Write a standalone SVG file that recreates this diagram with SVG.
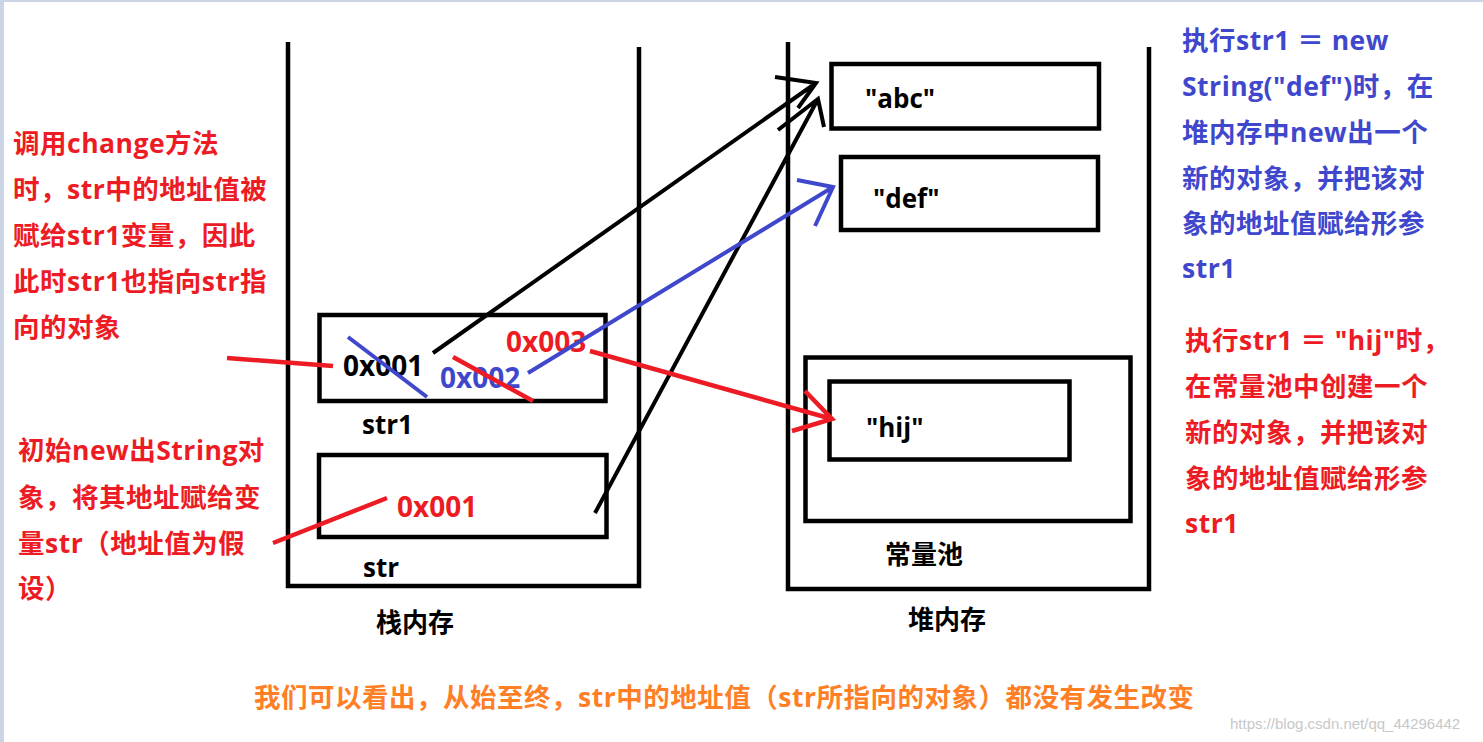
<svg xmlns="http://www.w3.org/2000/svg" width="1483" height="742" viewBox="0 0 1483 742">
<style>
.t{font-family:"Open Sans","Noto Sans CJK SC",sans-serif;font-weight:bold;font-size:26px}
.n{font-family:"Open Sans","Noto Sans CJK SC",sans-serif;font-weight:bold;font-size:26.5px;letter-spacing:0.5px}
.hex{font-family:"Open Sans","Noto Sans CJK SC",sans-serif;font-weight:bold;font-size:28px}
.k{fill:#000}
.r{fill:#ed1c24}
.b{fill:#3f48cc}
.o{fill:#ff7f27}
.box{fill:none;stroke:#000;stroke-width:4.5}
.wall{fill:none;stroke:#000;stroke-width:4.5}
.lk{fill:none;stroke:#000;stroke-width:4}
.lr{fill:none;stroke:#ed1c24;stroke-width:4.5}
.lb{fill:none;stroke:#3f48cc;stroke-width:4}
</style>
<rect x="0" y="0" width="1483" height="742" fill="#fff"/>
<rect x="0" y="0" width="4" height="742" fill="#ccd5e6"/>
<rect x="0" y="0" width="1483" height="2" fill="#ccd5e6"/>

<g id="stack">
<path class="wall" d="M288 42 V586 H639 V47"/>
<text class="t k" x="376" y="632">栈内存</text>
</g>
<g id="heap">
<path class="wall" d="M788 42 V589 H1149 V47"/>
<text class="t k" x="908" y="629">堆内存</text>
</g>
<g id="str1">
<rect class="box" x="319.5" y="315" width="286" height="86"/>
<text class="hex k" x="343" y="376">0x001</text>
<text class="hex b" x="440" y="388">0x002</text>
<text class="hex r" x="506" y="352">0x003</text>
<text class="t k" x="362" y="434">str1</text>
</g>
<g id="str">
<rect class="box" x="319" y="455" width="287.5" height="82"/>
<text class="hex r" x="397" y="517">0x001</text>
<text class="t k" x="363" y="577">str</text>
</g>
<g id="abc">
<rect class="box" x="831.5" y="64" width="267.5" height="64.5"/>
<text class="t k" x="865" y="108">"abc"</text>
</g>
<g id="def">
<rect class="box" x="841" y="157" width="257" height="73"/>
<text class="t k" x="873" y="208">"def"</text>
</g>
<g id="pool">
<rect class="box" x="805.5" y="357.5" width="325" height="163.5"/>
<text class="t k" x="885" y="564">常量池</text>
</g>
<g id="hij">
<rect class="box" x="829.5" y="381.5" width="240" height="78"/>
<text class="t k" x="866" y="437">"hij"</text>
</g>

<g id="connectors">
<path class="lr" d="M227 358 L333 366"/>
<path class="lb" d="M348 337 L427 397"/>
<path class="lk" d="M433 353 L816 83 M775 77 L816 83 L798 108"/>
<path class="lk" d="M595 513 L818 99 M778 130 L818 99 L824 127"/>
<path class="lb" d="M528 373 L833 187 M797 180 L833 187 L815 226"/>
<path class="lr" d="M453 357 L533 401"/>
<path class="lr" d="M590 351 L832 419 M805 391 L832 419 L792 431"/>
<path class="lr" d="M273 543 L387 498"/>
</g>

<g id="note-left-1">
<text class="n r" x="13" y="153">调用change方法</text>
<text class="n r" x="13" y="199">时，str中的地址值被</text>
<text class="n r" x="13" y="245">赋给str1变量，因此</text>
<text class="n r" x="13" y="291">此时str1也指向str指</text>
<text class="n r" x="13" y="337">向的对象</text>
</g>
<g id="note-left-2">
<text class="n r" x="18" y="460">初始new出String对</text>
<text class="n r" x="18" y="507">象，将其地址赋给变</text>
<text class="n r" x="18" y="553">量str（地址值为假</text>
<text class="n r" x="18" y="598">设）</text>
</g>
<g id="note-right-1">
<text class="n b" x="1182" y="50">执行str1 ＝ new</text>
<text class="n b" x="1182" y="96">String("def")时，在</text>
<text class="n b" x="1182" y="142">堆内存中new出一个</text>
<text class="n b" x="1182" y="188">新的对象，并把该对</text>
<text class="n b" x="1182" y="233">象的地址值赋给形参</text>
<text class="n b" x="1182" y="278">str1</text>
</g>
<g id="note-right-2">
<text class="n r" x="1185" y="350">执行str1 ＝ "hij"时，</text>
<text class="n r" x="1185" y="396">在常量池中创建一个</text>
<text class="n r" x="1185" y="442">新的对象，并把该对</text>
<text class="n r" x="1185" y="488">象的地址值赋给形参</text>
<text class="n r" x="1185" y="533">str1</text>
</g>
<g id="note-bottom">
<text class="n o" x="254" y="707">我们可以看出，从始至终，str中的地址值（str所指向的对象）都没有发生改变</text>
</g>
<text x="1230" y="729" font-family="Liberation Sans, sans-serif" font-size="15" fill="#c8c8c8">https://blog.csdn.net/qq_44296442</text>
</svg>
